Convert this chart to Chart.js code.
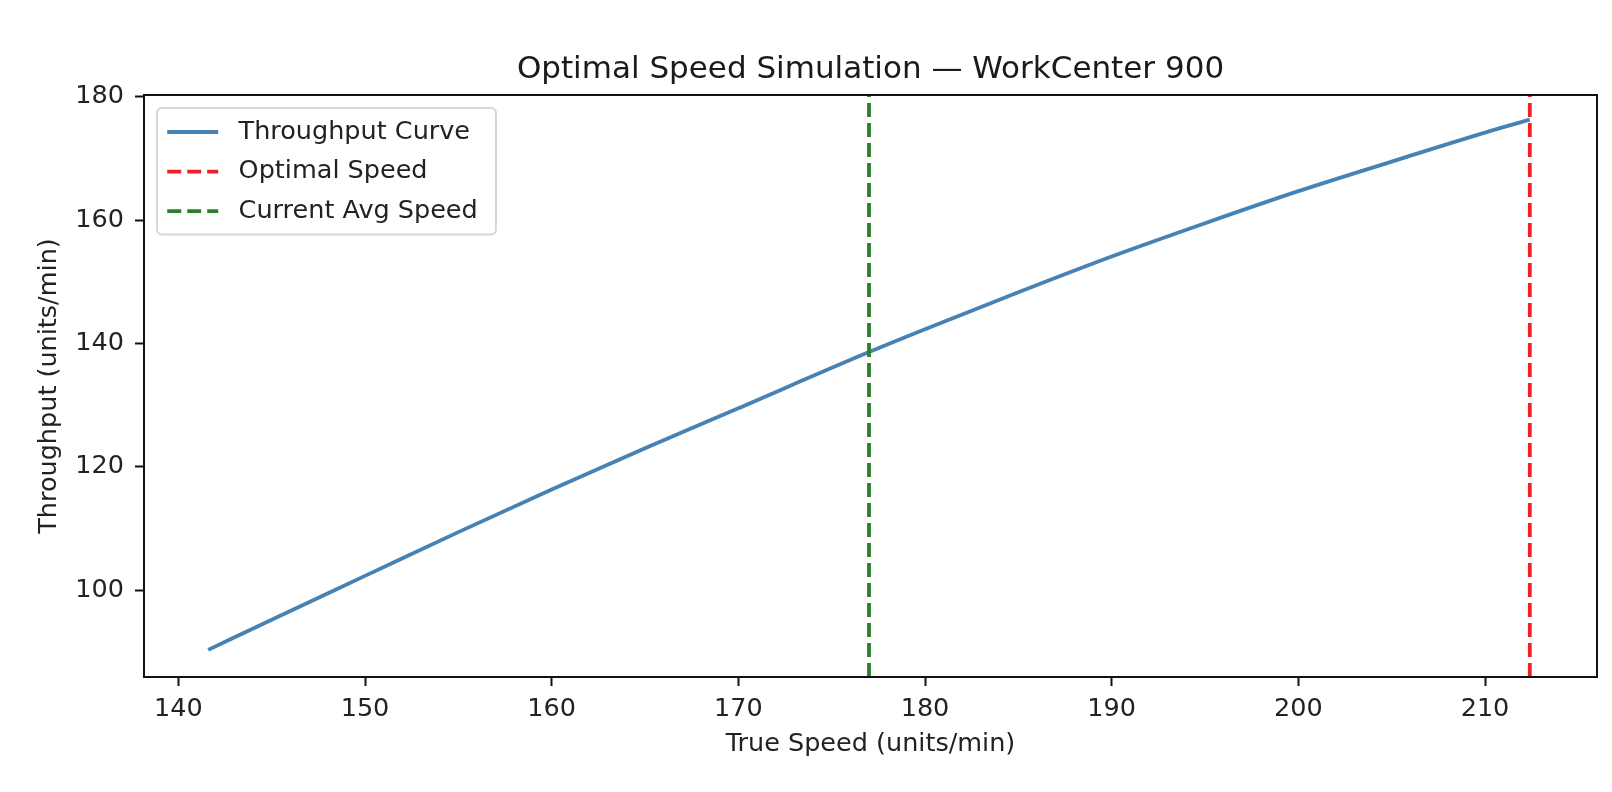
<!DOCTYPE html>
<html>
<head>
    <title>Optimal Speed Simulation</title>
    <style>
        html, body { margin: 0; padding: 0; background: #fff; }
        #wrap { width: 1612px; height: 792px; position: relative; }
    </style>
    <script src="https://cdn.jsdelivr.net/npm/chart.js"></script>
</head>
<body>
    <div id="wrap"><canvas id="speedChart"></canvas></div>
    <script>
        // values
        var speeds = [141.6, 145, 150, 155, 160, 165, 170, 177, 180, 185, 190, 195, 200, 205, 210, 212.4];
        var throughput = [90.3, 95.2, 102.3, 109.4, 116.3, 123.0, 129.5, 138.6, 142.3, 148.3, 154.1, 159.5, 164.7, 169.5, 174.2, 176.3];
        var optimalSpeed = 212.4;
        var currentAvgSpeed = 177.0;
        var xTicks = [140, 150, 160, 170, 180, 190, 200, 210];
        var yTicks = [100, 120, 140, 160, 180];
        var xRange = [138.16, 216.0];
        var yRange = [85.9, 180.3];

        var FS = 25.5; // matplotlib 10pt at this size
        Chart.defaults.font.family = '"DejaVu Sans", sans-serif';
        Chart.defaults.color = '#222';

        // matplotlib-like frame around the axes
        var frame = {
            id: 'frame',
            afterDatasetsDraw: function (chart) {
                var a = chart.chartArea, ctx = chart.ctx;
                ctx.save();
                ctx.strokeStyle = '#111';
                ctx.lineWidth = 2;
                ctx.strokeRect(a.left, a.top, a.right - a.left, a.bottom - a.top);
                ctx.restore();
            }
        };

        // legend drawn inside the plot, upper left
        var insideLegend = {
            id: 'insideLegend',
            afterDraw: function (chart) {
                var ctx = chart.ctx, a = chart.chartArea;
                var sets = chart.data.datasets;
                ctx.save();
                ctx.font = FS + 'px "DejaVu Sans"';
                var textW = 0;
                sets.forEach(function (d) { textW = Math.max(textW, ctx.measureText(d.label).width); });
                var pad = 10.2, handleLen = 51, gap = 20.4, rowH = 39.6;
                var x0 = a.left + 13, y0 = a.top + 13;
                var w = pad + handleLen + gap + textW + pad + 8;
                var h = pad * 2 + rowH * sets.length - 12.75;
                ctx.beginPath();
                ctx.roundRect(x0, y0, w, h, 5);
                ctx.fillStyle = 'rgba(255,255,255,0.8)';
                ctx.fill();
                ctx.strokeStyle = 'rgba(204,204,204,0.8)';
                ctx.lineWidth = 2;
                ctx.stroke();
                sets.forEach(function (d, i) {
                    var cy = y0 + 24 + i * rowH;
                    ctx.beginPath();
                    ctx.setLineDash(d.borderDash || []);
                    ctx.strokeStyle = d.borderColor;
                    ctx.lineWidth = d.borderWidth;
                    ctx.moveTo(x0 + pad, cy);
                    ctx.lineTo(x0 + pad + handleLen, cy);
                    ctx.stroke();
                    ctx.setLineDash([]);
                    ctx.fillStyle = '#222';
                    ctx.textBaseline = 'middle';
                    ctx.textAlign = 'left';
                    ctx.fillText(d.label, x0 + pad + handleLen + gap, cy);
                });
                ctx.restore();
            }
        };

        var curve = speeds.map(function (s, i) { return { x: s, y: throughput[i] }; });

        var ctx = document.getElementById('speedChart').getContext('2d');
        var myChart = new Chart(ctx, {
            type: 'line',
            data: {
                datasets: [{
                    label: 'Throughput Curve',
                    data: curve,
                    borderColor: '#4682b4',
                    borderWidth: 3.8,
                    pointRadius: 0,
                    cubicInterpolationMode: 'monotone',
                    order: 2
                }, {
                    label: 'Optimal Speed',
                    data: [{ x: optimalSpeed, y: yRange[0] }, { x: optimalSpeed, y: yRange[1] }],
                    borderColor: '#ee2222',
                    borderWidth: 3.8,
                    borderDash: [14, 6],
                    pointRadius: 0,
                    order: 1
                }, {
                    label: 'Current Avg Speed',
                    data: [{ x: currentAvgSpeed, y: yRange[0] }, { x: currentAvgSpeed, y: yRange[1] }],
                    borderColor: '#2a7f2a',
                    borderWidth: 3.8,
                    borderDash: [14, 6],
                    pointRadius: 0,
                    order: 0
                }]
            },
            options: {
                responsive: true,
                maintainAspectRatio: false,
                animation: false,
                layout: { padding: { top: 0, right: 15, bottom: 0, left: 0 } },
                plugins: {
                    legend: { display: false },
                    tooltip: { enabled: false },
                    title: {
                        display: true,
                        fullSize: false,
                        text: 'Optimal Speed Simulation \u2014 WorkCenter 900',
                        font: { size: 31, weight: 'normal' },
                        color: '#1a1a1a',
                        padding: { top: 51.4, bottom: 6.4 }
                    }
                },
                scales: {
                    x: {
                        type: 'linear',
                        min: xRange[0],
                        max: xRange[1],
                        afterBuildTicks: function (s) { s.ticks = xTicks.map(function (v) { return { value: v }; }); },
                        afterFit: function (s) { s.height = 115; },
                        ticks: { font: { size: FS }, padding: 8, maxRotation: 0, color: '#222' },
                        grid: { drawOnChartArea: false, drawTicks: true, tickLength: 9, tickWidth: 2, tickColor: '#111' },
                        border: { display: false },
                        title: {
                            display: true,
                            text: 'True Speed (units/min)',
                            font: { size: FS },
                            color: '#222',
                            padding: { top: 0, bottom: 32.7 }
                        }
                    },
                    y: {
                        min: yRange[0],
                        max: yRange[1],
                        afterBuildTicks: function (s) { s.ticks = yTicks.map(function (v) { return { value: v }; }); },
                        afterFit: function (s) { s.width = 144; },
                        ticks: { font: { size: FS }, padding: 11, color: '#222' },
                        grid: { drawOnChartArea: false, drawTicks: true, tickLength: 9, tickWidth: 2, tickColor: '#111' },
                        border: { display: false },
                        title: {
                            display: true,
                            text: 'Throughput (units/min)',
                            font: { size: FS },
                            color: '#222',
                            padding: { top: 34, bottom: 0 }
                        }
                    }
                }
            },
            plugins: [frame, insideLegend]
        });
    </script>
</body>
</html>
